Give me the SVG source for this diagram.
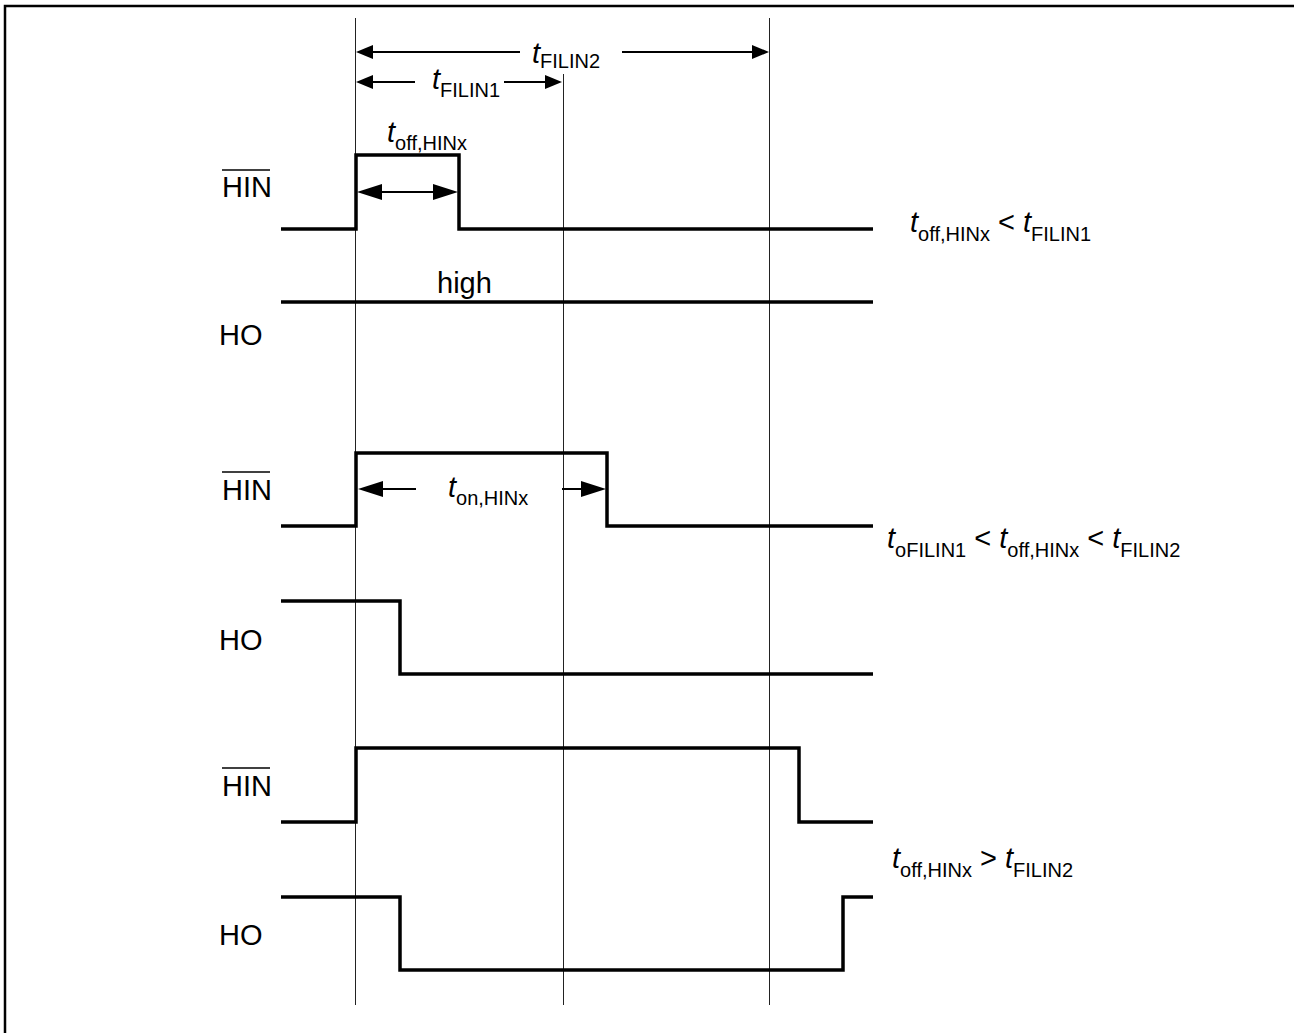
<svg xmlns="http://www.w3.org/2000/svg" width="1294" height="1033" viewBox="0 0 1294 1033">
<style>
  .sig{fill:none;stroke:#000;stroke-width:3.5;stroke-linejoin:miter;stroke-linecap:butt}
  .guide{fill:none;stroke:#222;stroke-width:1}
  .dim{fill:none;stroke:#000;stroke-width:2}
  .head{fill:#000}
  text{font-family:"Liberation Sans",Arial,sans-serif;fill:#000}
  .lbl{font-size:29px}
  .it{font-style:italic}
  .sub{font-size:20px}
  .ovl{stroke:#000;stroke-width:1.6}
</style>
<rect width="1294" height="1033" fill="#fff"/>
<path d="M5,1040 V6 H1300" fill="none" stroke="#000" stroke-width="2.5"/>

<g id="guides">
  <line class="guide" x1="355.5" y1="18" x2="355.5" y2="1005"/>
  <line class="guide" x1="563.5" y1="74" x2="563.5" y2="1005"/>
  <line class="guide" x1="769.5" y1="18" x2="769.5" y2="1005"/>
</g>

<g id="connectors">
  <!-- tFILIN2 -->
  <line class="dim" x1="360" y1="52" x2="520" y2="52"/>
  <polygon class="head" points="356,52 373,45 373,59"/>
  <line class="dim" x1="622" y1="52" x2="765" y2="52"/>
  <polygon class="head" points="769,52 752,45 752,59"/>
  <!-- tFILIN1 -->
  <line class="dim" x1="360" y1="82" x2="415" y2="82"/>
  <polygon class="head" points="356,82 373,75 373,89"/>
  <line class="dim" x1="504" y1="82" x2="558" y2="82"/>
  <polygon class="head" points="562,82 545,75 545,89"/>
  <!-- toff HIN1 -->
  <line class="dim" x1="370" y1="192" x2="445" y2="192"/>
  <polygon class="head" points="357,192 382,184 382,200"/>
  <polygon class="head" points="458,192 433,184 433,200"/>
  <!-- ton HIN2 -->
  <line class="dim" x1="370" y1="489" x2="416" y2="489"/>
  <polygon class="head" points="358,489 383,481 383,497"/>
  <line class="dim" x1="562" y1="489" x2="590" y2="489"/>
  <polygon class="head" points="606,489 581,481 581,497"/>
</g>

<g id="dim-labels">
  <text x="532" y="63" class="lbl"><tspan class="it">t</tspan><tspan class="sub" dy="5">FILIN2</tspan></text>
  <text x="432" y="89" class="lbl"><tspan class="it">t</tspan><tspan class="sub" dy="8">FILIN1</tspan></text>
  <text x="387" y="142" class="lbl"><tspan class="it">t</tspan><tspan class="sub" dy="8">off,HINx</tspan></text>
  <text x="448" y="497" class="lbl"><tspan class="it">t</tspan><tspan class="sub" dy="8">on,HINx</tspan></text>
</g>

<g id="hin1">
  <polyline class="sig" points="281,229 356,229 356,155 459,155 459,229 873,229"/>
  <text x="222" y="197" class="lbl">HIN</text>
  <line class="ovl" x1="222" y1="170" x2="270" y2="170"/>
</g>
<g id="ho1">
  <line class="sig" x1="281" y1="302" x2="873" y2="302"/>
  <text x="437" y="293" class="lbl">high</text>
  <text x="219" y="345" class="lbl">HO</text>
</g>

<g id="hin2">
  <polyline class="sig" points="281,526 356,526 356,453 607,453 607,526 873,526"/>
  <text x="222" y="500" class="lbl">HIN</text>
  <line class="ovl" x1="222" y1="472" x2="270" y2="472"/>
</g>
<g id="ho2">
  <polyline class="sig" points="281,601 400,601 400,674 873,674"/>
  <text x="219" y="650" class="lbl">HO</text>
</g>

<g id="hin3">
  <polyline class="sig" points="281,822 356,822 356,748 799,748 799,822 873,822"/>
  <text x="222" y="796" class="lbl">HIN</text>
  <line class="ovl" x1="222" y1="768" x2="270" y2="768"/>
</g>
<g id="ho3">
  <polyline class="sig" points="281,897 400,897 400,970 843,970 843,897 873,897"/>
  <text x="219" y="945" class="lbl">HO</text>
</g>

<g id="conditions">
  <text x="910" y="232" class="lbl"><tspan class="it">t</tspan><tspan class="sub" dy="9">off,HINx</tspan><tspan dy="-9"> &lt; </tspan><tspan class="it">t</tspan><tspan class="sub" dy="9">FILIN1</tspan></text>
  <text x="887" y="548" class="lbl"><tspan class="it">t</tspan><tspan class="sub" dy="9">oFILIN1</tspan><tspan dy="-9"> &lt; </tspan><tspan class="it">t</tspan><tspan class="sub" dy="9">off,HINx</tspan><tspan dy="-9"> &lt; </tspan><tspan class="it">t</tspan><tspan class="sub" dy="9">FILIN2</tspan></text>
  <text x="892" y="868" class="lbl"><tspan class="it">t</tspan><tspan class="sub" dy="9">off,HINx</tspan><tspan dy="-9"> &gt; </tspan><tspan class="it">t</tspan><tspan class="sub" dy="9">FILIN2</tspan></text>
</g>
</svg>
